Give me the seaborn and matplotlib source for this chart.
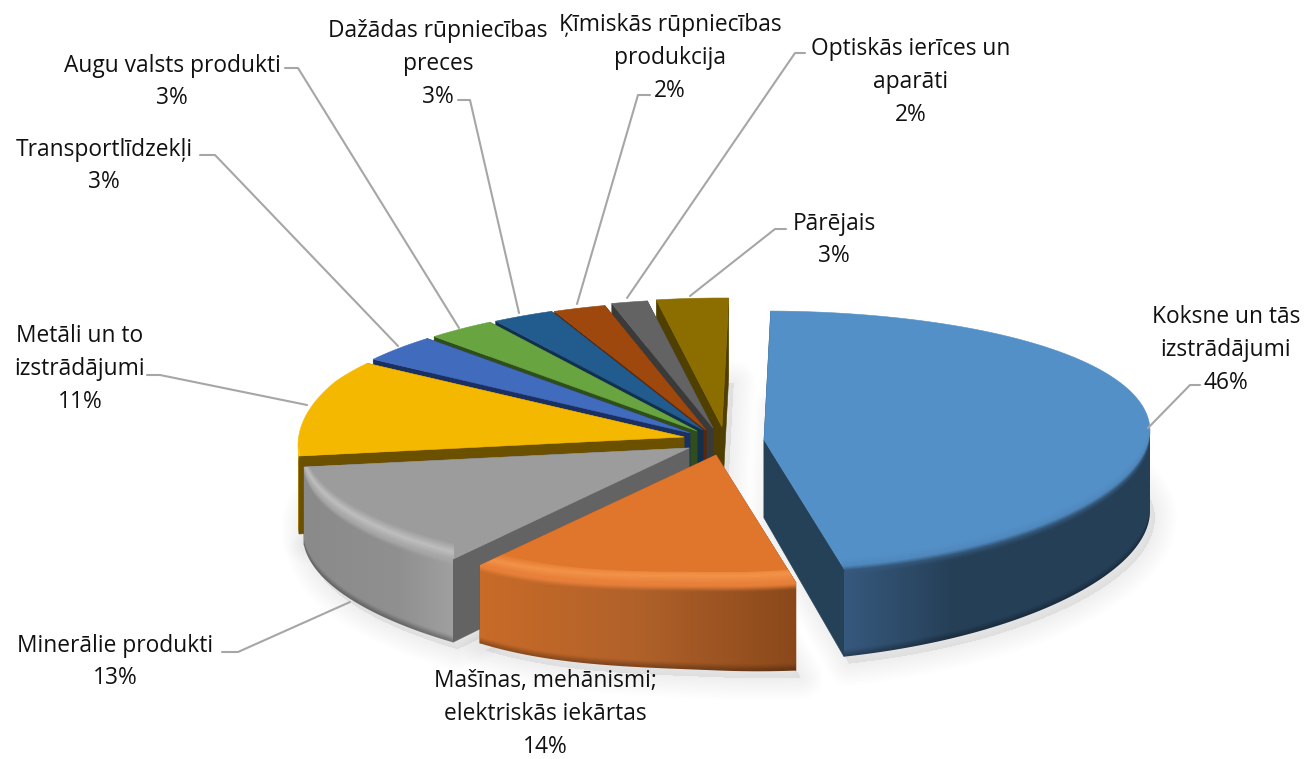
import numpy as np
import matplotlib
matplotlib.use("Agg")
import matplotlib.pyplot as plt
from matplotlib.colors import to_rgb
from matplotlib.patches import Polygon
import seaborn as sns

# ---------- data ----------
categories = ["Koksne un tās\nizstrādājumi", "Mašīnas, mehānismi;\nelektriskās iekārtas",
              "Minerālie produkti", "Metāli un to\nizstrādājumi", "Transportlīdzekļi",
              "Augu valsts produkti", "Dažādas rūpniecības\npreces",
              "Ķīmiskās rūpniecības\nprodukcija", "Optiskās ierīces un\naparāti", "Pārējais"]
values = [46.4, 13.8, 13.4, 10.8, 3.4, 2.9, 2.6, 2.2, 1.5, 3.0]

# ---------- style and layout ----------
top_colors = ["#5490C8", "#E0752C", "#9C9C9C", "#F5B800", "#416BBD",
              "#68A540", "#225B8E", "#9E480E", "#636363", "#8C6D00"]
cut_colors = ["#254158", "#8A481A", "#636363", "#6B5000", "#1B3060",
              "#2F4E1C", "#12304D", "#5A2808", "#3A3A3A", "#4F3F00"]
apexes = [(764, 440), (716, 455), (689, 448), (684, 437), (690, 433),
          (697, 431), (703, 430), (706, 430), (713, 428), (722, 427)]
ry_front = [132, 130, 128, 128, 128, 128, 128, 128, 128, 128]
skew = [0, 4, 0, 0, 0, 0, 0, 0, 0, 0]
depth_ab = [(90, -10), (85.4, 12.2), (91, 13), (78, 0), (78, 0),
            (78, 0), (78, 0), (78, 0), (78, 0), (78, 0)]
rims = {0: [(-.12, "#5490C8"), (-.03, "#4F88BD"), (.02, "#35597C")],
        1: [(-.22, "#E0752C"), (-.11, "#F29348"), (-.02, "#E8803A")],
        2: [(-.20, "#9C9C9C"), (-.09, "#BEBEBE"), (0, "#A8A8A8")],
        3: [(-.10, "#F5B800"), (-.02, "#FFCB1A")]}
walls = {0: [(843, "#37597E"), (950, "#264058"), (1150, "#253F57")],
         1: [(479, "#C96B28"), (640, "#B0612A"), (797, "#8A481A")],
         2: [(304, "#8A8A8A"), (400, "#909090"), (454, "#A0A0A0")],
         3: [(290, "#A07A00"), (310, "#A07A00")]}
label_pos = [(1226, 350), (545, 714), (115, 662), (80, 369), (104, 166),
             (172, 82), (438, 64), (670, 58), (911, 82), (834, 240)]
leaders = [[(1148, 428), (1190, 385), (1200, 385)], [],
           [(350, 602), (238, 652), (222, 652)], [(307, 405), (160, 375), (147, 375)],
           [(398, 346), (215, 155), (200, 155)], [(459, 328), (298, 68), (285, 68)],
           [(519, 313), (470, 100), (458, 100)], [(577, 304), (638, 95), (650, 95)],
           [(627, 298), (795, 53), (805, 53)], [(690, 296), (775, 229), (786, 229)]]
RX, RY_BACK, APEX_DEPTH, START = 386, 129, 78, 1.0

sns.set_theme(style="white")
plt.rcParams["font.family"] = ["Open Sans", "DejaVu Sans"]
palette = sns.color_palette(top_colors)

fig = plt.figure(figsize=(13.04, 7.59), dpi=100)
ax = fig.add_axes([0, 0, 1, 1])
ax.set_axis_off()


def smooth(v, a, b):
    u = np.clip((v - a) / (b - a), 0, 1)
    return u * u * (3 - 2 * u)


def project(i, t, r=1.0):
    apex = apexes[i]
    a = np.radians(t)
    s, c = np.sin(a), np.cos(a)
    ry = np.where(c > 0, RY_BACK, ry_front[i])
    off = np.where(s > 0, -9 * s ** 2,
                   10 * smooth(np.abs(s), 0, .6) * np.clip(1 - (c + .07) / .5, 0, 1))
    return apex[0] + r * RX * s, apex[1] - r * ry * c + r * (off + skew[i] * s)


def depth_at(i, t):
    return depth_ab[i][0] + depth_ab[i][1] * np.sin(np.radians(t))


def rgb(c):
    return np.array(to_rgb(c))


def front_band(i, t0, t1, z):
    lo, hi = max(t0, 90), min(t1, 270)
    if hi <= lo:
        return
    ts = np.linspace(lo, hi, 200)
    px, py = project(i, ts)
    dp = depth_at(i, ts)
    order = np.argsort(px)
    xs, ys, ds = px[order], py[order], dp[order]
    x0, x1 = int(xs[0]) - 1, int(xs[-1]) + 2
    y0, y1 = int(ys.min()) - 45, int((ys + ds).max()) + 3
    X, Y = np.meshgrid(np.arange(x0, x1) + .5, np.arange(y0, y1) + .5)
    rel = (Y - np.interp(X, xs, ys)) / np.interp(X, xs, ds)

    rim_r = [p[0] for p in rims[i]]
    rim_c = np.array([rgb(p[1]) for p in rims[i]])
    wall_x = [p[0] for p in walls[i]]
    wall_c = np.array([rgb(p[1]) for p in walls[i]])
    img = np.zeros(X.shape + (3,))
    for ch in range(3):
        band = np.interp(rel, rim_r, rim_c[:, ch])
        wall = np.interp(X, wall_x, wall_c[:, ch])
        m = smooth(rel, 0.0, 0.09)
        img[..., ch] = (band * (1 - m) + wall * m) * (1 - .28 * smooth(rel, .9, 1.0))

    ix, iy = project(i, ts, .9)
    ox0, oy0 = project(i, np.array([lo]))
    ox1, oy1 = project(i, np.array([hi]))
    poly = list(zip(ix, iy)) + [(ox1[0], oy1[0])]
    poly += list(zip(px[::-1], (py + dp)[::-1])) + [(ox0[0], oy0[0])]
    im = ax.imshow(img, extent=(x0, x1, y1, y0), origin="upper",
                   aspect="auto", interpolation="bilinear", zorder=z)
    im.set_clip_path(Polygon(poly, closed=True, transform=ax.transData))


edges = START + np.concatenate([[0], np.cumsum(values)]) * 3.6

# soft shadows under the bottom faces
for i in [0, 1, 2, 3, 9]:
    t = np.linspace(edges[i], edges[i + 1], 80)
    x, y = project(i, t)
    d = depth_at(i, t)
    sx = np.r_[apexes[i][0], x] + 5
    sy = np.r_[apexes[i][1] + APEX_DEPTH, y + d] + 7
    for lw in np.arange(2, 34, 2):
        ax.fill(sx, sy, facecolor=(0, 0, 0, .005), edgecolor=(0, 0, 0, .005),
                lw=lw, joinstyle="round", zorder=1)

# slices, painted from the back to the front
paint_order = [9, 8, 7, 6, 5, 4, 3, 2, 1, 0]
z = 2
for i in paint_order:
    t0, t1 = edges[i], edges[i + 1]
    apex = apexes[i]
    for t in (t1, t0):
        ex, ey = project(i, np.array([t]))
        ax.fill([apex[0], ex[0], ex[0], apex[0]],
                [apex[1], ey[0], ey[0] + depth_at(i, t), apex[1] + APEX_DEPTH],
                facecolor=cut_colors[i], edgecolor=cut_colors[i], lw=.4, zorder=z)
    ts = np.linspace(t0, t1, 160)
    px, py = project(i, ts)
    ax.fill(np.r_[apex[0], px], np.r_[apex[1], py], facecolor=palette[i],
            edgecolor=palette[i], lw=.4, zorder=z + 1)
    if i in rims:
        front_band(i, t0, t1, z + 2)
    z += 3

# leader lines
for path in leaders:
    if not path:
        continue
    sns.lineplot(x=[p[0] for p in path], y=[p[1] for p in path], sort=False,
                 estimator=None, color="#A6A6A6", lw=1.5, ax=ax, zorder=z,
                 legend=False)

# labels
for name, v, (lx, ly) in zip(categories, values, label_pos):
    ax.text(lx, ly, f"{name}\n{round(v)}%", ha="center", va="center",
            fontsize=16.4, color="#111111", linespacing=1.5, zorder=z + 1)

ax.set_xlim(0, 1304)
ax.set_ylim(759, 0)
ax.set_axis_off()
fig.savefig("out.png", dpi=100, facecolor="white")
